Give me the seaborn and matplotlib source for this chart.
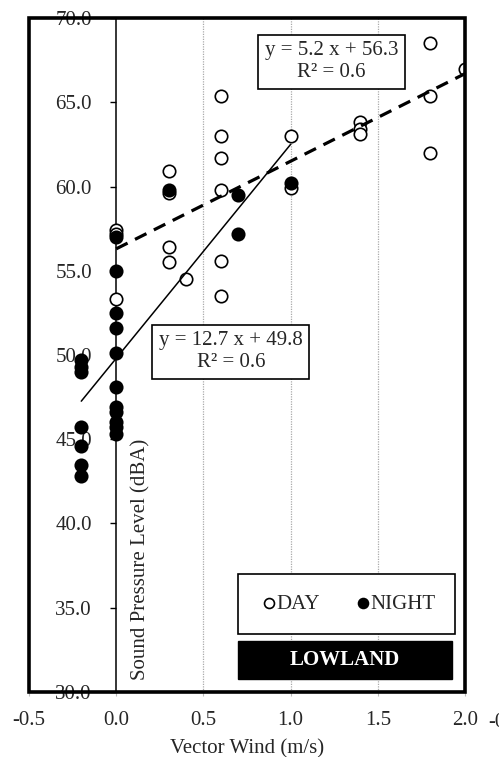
import numpy as np
import matplotlib
matplotlib.use("Agg")
import matplotlib.pyplot as plt
from matplotlib.patches import Rectangle
import seaborn as sns

day_x = [0.0, 0.0, 0.0, 0.3, 0.3, 0.3, 0.3, 0.4, 0.6, 0.6, 0.6, 0.6, 0.6, 0.6,
         1.0, 1.0, 1.4, 1.4, 1.4, 1.8, 1.8, 1.8, 2.0]
day_y = [57.4, 57.2, 53.3, 60.9, 59.6, 56.4, 55.5, 54.5, 65.4, 63.0, 61.7, 59.8, 55.6, 53.5,
         63.0, 59.9, 63.8, 63.4, 63.1, 68.5, 65.4, 62.0, 67.0]

night_x = [0.0, 0.0, 0.0, 0.0, 0.0, 0.0, 0.0, 0.0, 0.0, 0.0, 0.0,
           -0.2, -0.2, -0.2, -0.2, -0.2, -0.2, -0.2,
           0.3, 0.7, 0.7, 1.0]
night_y = [57.0, 55.0, 52.5, 51.6, 50.1, 48.1, 46.9, 46.6, 46.0, 45.7, 45.3,
           49.7, 49.3, 49.0, 45.7, 44.6, 43.5, 42.8,
           59.8, 59.5, 57.2, 60.2]

# linear fits shown on the chart: slope, intercept, x range
day_fit = [5.2, 56.3]
day_fit_range = [0.0, 2.0]
night_fit = [12.7, 49.8]
night_fit_range = [-0.2, 1.0]

x_ticks = [-0.5, 0.0, 0.5, 1.0, 1.5, 2.0]
y_ticks = [30, 35, 40, 45, 50, 55, 60, 65, 70]

sns.set_theme(style="white")
plt.rcParams['font.family'] = ['Liberation Serif', 'DejaVu Serif']
plt.rcParams['font.size'] = 15

fig = plt.figure(figsize=(4.99, 7.57), dpi=100)
ax = fig.add_axes([0.058, 0.0859, 0.874, 0.8903])

sns.scatterplot(x=day_x, y=day_y, ax=ax, s=80, facecolor='white', edgecolor='black',
                linewidth=1.2, label='DAY', zorder=3)
sns.scatterplot(x=night_x, y=night_y, ax=ax, s=80, facecolor='black', edgecolor='black',
                linewidth=1.2, label='NIGHT', zorder=3)

xs = np.array(day_fit_range)
ax.plot(xs, day_fit[0] * xs + day_fit[1], color='black', lw=2.3,
        linestyle=(0, (4, 2.6)), zorder=4)
xs = np.array(night_fit_range)
ax.plot(xs, night_fit[0] * xs + night_fit[1], color='black', lw=1.1, zorder=4)

ax.set_xlim(-0.5, 2.0)
ax.set_ylim(30, 70)
ax.set_xticks(x_ticks)
ax.set_yticks(y_ticks)
ax.set_xticklabels([f'{v:.1f}' for v in x_ticks])
ax.set_yticklabels([f'{v:.1f}' for v in y_ticks])

# dotted vertical grid
for gx in [0.5, 1.0, 1.5]:
    ax.axvline(gx, color='#aaaaaa', lw=0.9, linestyle=(0, (1, 1)), zorder=1)

# y axis sits at x = 0, outer frame drawn as a box
for side in ['top', 'right', 'bottom']:
    ax.spines[side].set_visible(False)
ax.spines['left'].set_position(('data', 0))
ax.spines['left'].set_linewidth(1.1)
ax.spines['left'].set_color('black')
ax.add_patch(Rectangle((0, 0), 1, 1, transform=ax.transAxes, fill=False,
                       edgecolor='black', lw=2.6, clip_on=False, zorder=5))

ax.tick_params(axis='y', direction='out', length=4.5, width=1, color='black',
               pad=13, labelsize=15, left=True)
ax.tick_params(axis='x', direction='out', length=3, width=0.8, color='#bbbbbb',
               pad=11, labelsize=15, bottom=True)

ax.set_xlabel('Vector Wind (m/s)', fontsize=15, labelpad=6)
ax.set_ylabel('Sound Pressure Level (dBA)', fontsize=15)
ax.yaxis.set_label_coords(0.256, 0.018)
ax.yaxis.label.set_horizontalalignment('left')
ax.yaxis.label.set_verticalalignment('center')

box = dict(boxstyle='square,pad=0.32', facecolor='white', edgecolor='black', lw=1.2)
ax.text(0.694, 0.935, f'y = {day_fit[0]} x + {day_fit[1]}\nR² = 0.6', transform=ax.transAxes,
        ha='center', va='center', multialignment='center', fontsize=15,
        linespacing=1.2, bbox=box, zorder=6)
ax.text(0.463, 0.505, f'y = {night_fit[0]} x + {night_fit[1]}\nR² = 0.6', transform=ax.transAxes,
        ha='center', va='center', multialignment='center', fontsize=15,
        linespacing=1.2, bbox=box, zorder=6)

leg = ax.legend(ncol=2, mode='expand', loc='center',
                bbox_to_anchor=(0.479, 0.0875, 0.498, 0.0861),
                frameon=True, fancybox=False, edgecolor='black', framealpha=1,
                markerscale=0.8, handlelength=1.1, handletextpad=-0.2,
                borderpad=0.95, borderaxespad=0, fontsize=15)
leg.get_frame().set_linewidth(1.2)
leg.set_zorder(6)

ax.add_patch(Rectangle((0.479, 0.0193), 0.491, 0.0564, transform=ax.transAxes,
                       facecolor='black', edgecolor='black', zorder=6))
ax.text(0.7245, 0.0475, 'LOWLAND', transform=ax.transAxes, ha='center', va='center',
        color='white', fontweight='bold', fontsize=15, zorder=7)

# tick label of the neighbouring panel, cut by the image edge as in the reference
fig.text(0.978, 0.046, '-0.5', ha='left', va='center', fontsize=15)

fig.savefig('out.png', dpi=100)
